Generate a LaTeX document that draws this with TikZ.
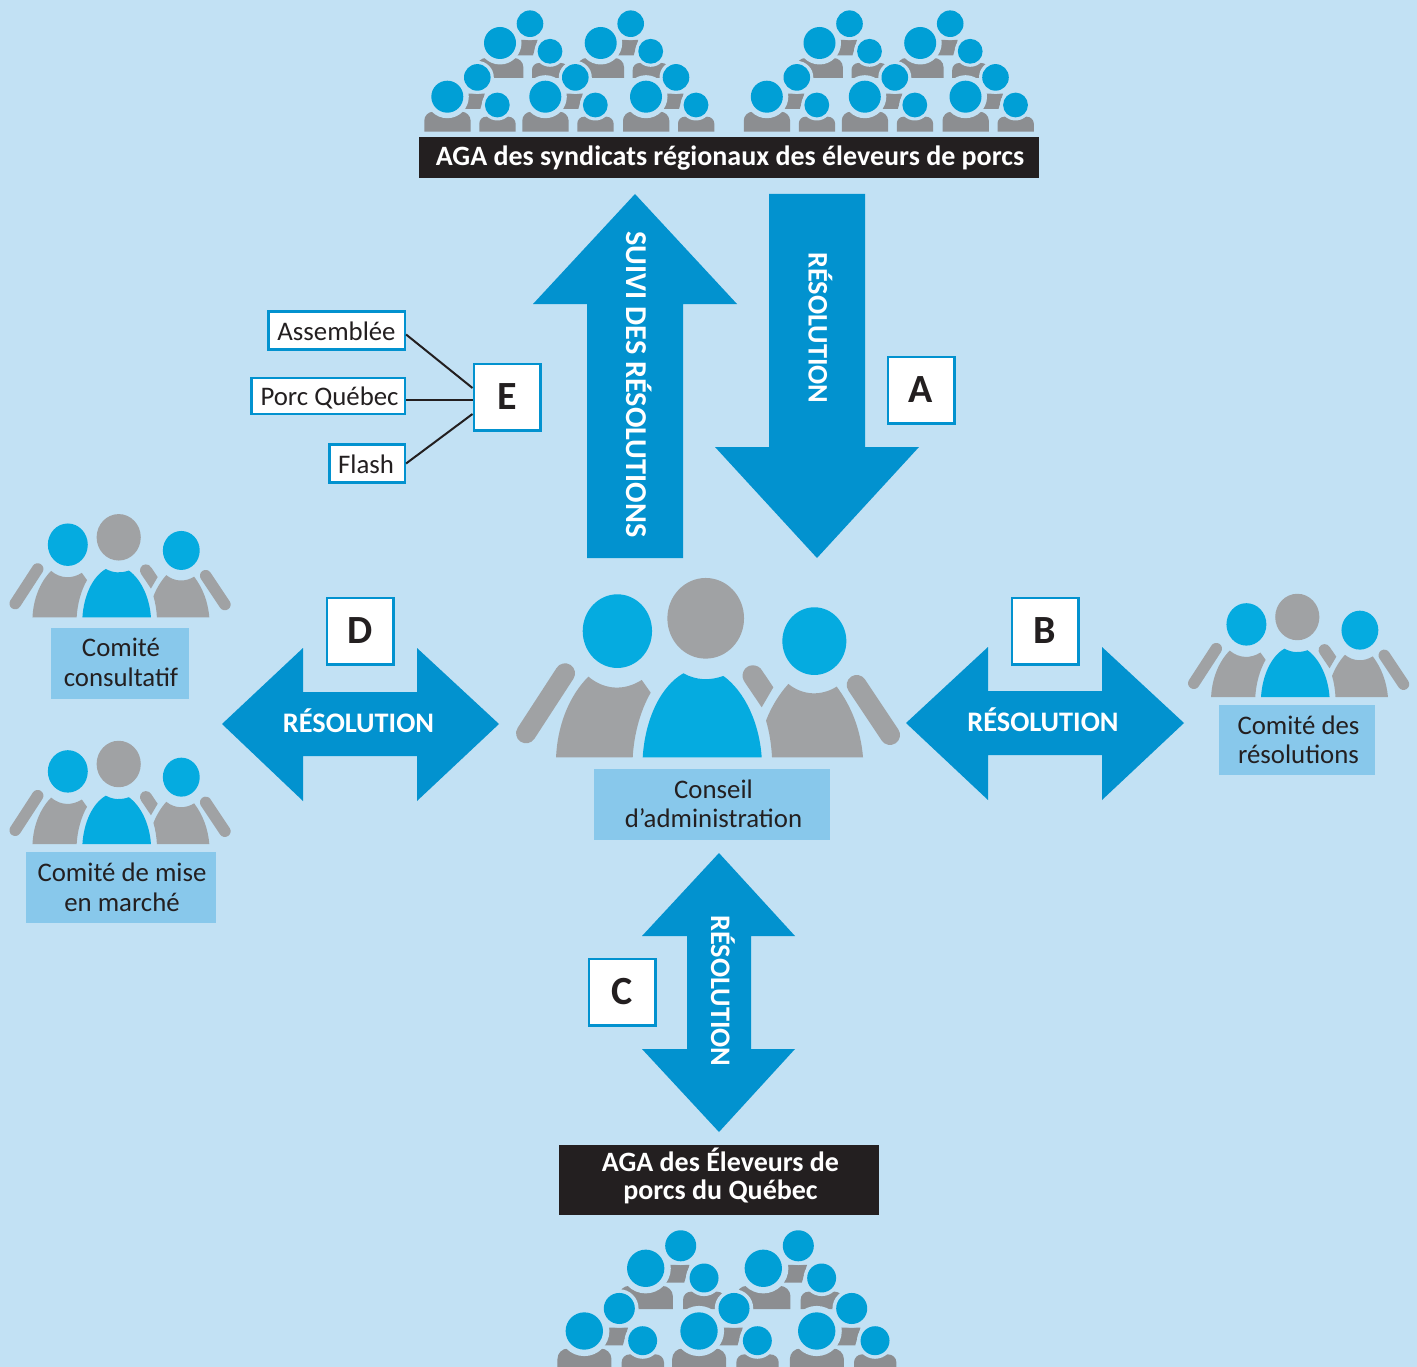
\documentclass[tikz,border=0pt]{standalone}
\usepackage{fontspec}
\setmainfont{Carlito}
\definecolor{bgc}{HTML}{C2E1F4}
\definecolor{arrowc}{HTML}{0292CF}
\definecolor{crowdhead}{HTML}{009FD6}
\definecolor{crowdbody}{HTML}{8C8E91}
\definecolor{triohead}{HTML}{05ABE0}
\definecolor{triogray}{HTML}{A0A2A4}
\definecolor{labelc}{HTML}{88C8EB}
\definecolor{inkc}{HTML}{231F20}
\tikzset{
  bigarrow/.style={fill=arrowc,draw=none},
  arrowlabel/.style={text=white,font=\fontsize{28.3}{30}\bfseries\selectfont,inner sep=0pt},
  letterbox/.style={draw=arrowc,line width=2.6pt,fill=white,text=inkc,minimum width=66.4pt,minimum height=66.4pt,inner sep=0pt,font=\fontsize{40}{44}\bfseries\selectfont},
  mediabox/.style={draw=arrowc,line width=2.6pt,fill=white,minimum height=38.5pt,inner sep=0pt},
  medialabel/.style={text=inkc,inner sep=0pt,font=\fontsize{26.8}{29}\selectfont},
  commbox/.style={fill=labelc,inner sep=0pt},
  commlabel/.style={text=inkc,inner sep=0pt,align=center,font=\fontsize{26.8}{29.5}\selectfont},
  blackbox/.style={fill=inkc,inner sep=0pt},
  blacklabel/.style={text=white,inner sep=0pt,align=center,font=\fontsize{28}{28}\bfseries\selectfont},
  link/.style={draw=inkc,line width=2pt}
}
\newcommand{\trio}[3]{%
 \begin{scope}[shift={(#1,#2)},scale=#3,shift={(-587,-145)}]
  \pgfmathsetmacro{\armw}{60*#3}
  \draw[triogray,line width=\armw pt,line cap=round] (165,310) -- (48,490);
  \draw[triogray,line width=\armw pt,line cap=round] (1040,345) -- (1140,495);
  \fill[triogray] (755,412) -- (790,352) -- (757,303) .. controls (745,280) and (710,280) .. (700,305) .. controls (695,318) and (698,328) .. (705,338) -- cycle;
  \fill[triogray] (138,562) -- (368,562) .. controls (372,490) and (392,420) .. (422,368) -- (395,330) .. controls (345,362) and (285,362) .. (235,320) .. controls (175,380) and (142,470) .. (138,562) -- cycle;
  \fill[triohead] (398,562) -- (755,562) .. controls (748,460) and (705,365) .. (640,318) .. controls (600,332) and (560,332) .. (520,310) .. controls (450,350) and (405,450) .. (398,562) -- cycle;
  \fill[triogray] (786,562) -- (1059,562) .. controls (1052,480) and (1025,410) .. (980,350) .. controls (935,378) and (880,378) .. (835,342) .. controls (805,375) and (782,415) .. (768,452) .. controls (778,485) and (784,525) .. (786,562) -- cycle;
  \fill[triohead] (322,183.5) ellipse [x radius=104,y radius=110.5];
  \fill[triogray] (587,145) ellipse [x radius=115,y radius=121];
  \fill[triohead] (913,213.5) ellipse [x radius=96,y radius=101.5];
 \end{scope}}
\newcommand{\crowdunit}[3]{%
 \begin{scope}[shift={(#1,#2)},scale=#3]
  \fill[crowdbody] (17,12.3) -- (33,12.3) -- (37.5,-3) -- (18,-3) -- cycle;
  \fill[crowdbody] (-23,35) -- (-23,24) .. controls (-23,19) and (-19,15) .. (-14,15) -- (14,15) .. controls (19,15) and (23.3,19) .. (23.3,24) -- (23.3,35) -- cycle;
  \fill[crowdbody] (32,35) -- (32,27) .. controls (32,23) and (35,20) .. (39,20) -- (61,20) .. controls (65,20) and (68.3,23) .. (68.3,27) -- (68.3,35) -- cycle;
  \fill[bgc] (0,0) circle [radius=21.5];
  \fill[bgc] (30,-19.3) circle [radius=16.5];
  \fill[bgc] (50,8.3) circle [radius=15.5];
  \fill[crowdhead] (0,0) circle [radius=16];
  \fill[crowdhead] (30,-19.3) circle [radius=13.3];
  \fill[crowdhead] (50,8.3) circle [radius=12.4];
 \end{scope}}
\newcommand{\topcrowd}[1]{%
 \crowdunit{#1+500}{43}{1}
 \crowdunit{#1+600.7}{43}{1}
 \crowdunit{#1+447.3}{96.7}{1}
 \crowdunit{#1+545.3}{96.7}{1}
 \crowdunit{#1+646}{96.7}{1}}
\begin{document}
\begin{tikzpicture}[x=1pt,y=-1pt]
\useasboundingbox (0,0) rectangle (1417,1367);
\fill[bgc] (0,0) rectangle (1417,1367);
\begin{scope}
\clip (0,0) rectangle (1417,1367);
\topcrowd{0}
\topcrowd{319.5}
\crowdunit{645.7}{1268.3}{1.167}
\crowdunit{763.3}{1268.3}{1.167}
\crowdunit{584.3}{1331}{1.167}
\crowdunit{699}{1331}{1.167}
\crowdunit{816.7}{1331}{1.167}
\end{scope}
\trio{705.7}{618.3}{0.3333}
\trio{118.7}{537.3}{0.192}
\trio{118.7}{764}{0.192}
\trio{1297.3}{617}{0.192}
% arrows
\fill[bigarrow] (635,194) -- (737,304) -- (683,304) -- (683,558) -- (587,558) -- (587,304) -- (533,304) -- cycle;
\fill[bigarrow] (817,558) -- (715,447) -- (769,447) -- (769,194) -- (865,194) -- (865,447) -- (919,447) -- cycle;
\fill[bigarrow] (222,724) -- (303,648) -- (303,692) -- (417,692) -- (417,648) -- (499,724) -- (417,801) -- (417,756) -- (303,756) -- (303,801) -- cycle;
\fill[bigarrow] (906,723) -- (988,647) -- (988,691) -- (1102,691) -- (1102,647) -- (1184,723) -- (1102,800) -- (1102,755) -- (988,755) -- (988,800) -- cycle;
\fill[bigarrow] (719,853) -- (795,936) -- (751,936) -- (751,1049) -- (795,1049) -- (719,1132) -- (642,1049) -- (687,1049) -- (687,936) -- (642,936) -- cycle;
\node[arrowlabel,rotate=-90,font=\fontsize{30.3}{32}\bfseries\selectfont] (suivi) at (639.5,384.5) {SUIVI DES RÉSOLUTIONS};
\node[arrowlabel,rotate=-90] (resa) at (820.5,328) {RÉSOLUTION};
\node[arrowlabel] (resd) at (358.5,720.5) {RÉSOLUTION};
\node[arrowlabel] (resb) at (1043,719.5) {RÉSOLUTION};
\node[arrowlabel,rotate=-90] (resc) at (723,991) {RÉSOLUTION};
% letter boxes
\node[letterbox] (A) at (921,390) {A};
\node[letterbox] (B) at (1045,631) {B};
\node[letterbox] (C) at (622,992) {C};
\node[letterbox] (D) at (360,631) {D};
\node[letterbox] (E) at (507,397) {E};
% media boxes
\node[mediabox,minimum width=136.6pt] (assemblee) at (336.5,330.5) {};
\node[medialabel] (assembleetext) at (336.5,331.5) {Assemblée};
\node[mediabox,minimum width=153.6pt,minimum height=36pt] (porc) at (328,396) {};
\node[medialabel] (porctext) at (329.5,398) {Porc Québec};
\node[mediabox,minimum width=75.6pt] (flash) at (367,463.5) {};
\node[medialabel] (flashtext) at (366,464.5) {Flash};
\draw[link] ([yshift=-4pt]assemblee.east) -- ([yshift=9pt]E.west);
\draw[link] ([yshift=-4pt]porc.east) -- ([yshift=-3pt]E.west);
\draw[link] (flash.east) -- ([yshift=-17pt]E.west);
% labels
\node[commbox,minimum width=236pt,minimum height=71pt] (conseil) at (712,804.5) {};
\node[commlabel] (conseiltext) at (713.5,804) {Conseil\\d’administration};
\node[commbox,minimum width=138pt,minimum height=71pt] (consult) at (120,663.5) {};
\node[commlabel] (consulttext) at (121,662.5) {Comité\\consultatif};
\node[commbox,minimum width=190pt,minimum height=71pt] (mise) at (121,887.5) {};
\node[commlabel] (misetext) at (122,887.5) {Comité de mise\\en marché};
\node[commbox,minimum width=156pt,minimum height=70pt] (resol) at (1297,740) {};
\node[commlabel] (resoltext) at (1298.5,740) {Comité des\\résolutions};
\node[blackbox,minimum width=620pt,minimum height=41pt] (agatop) at (729,157.5) {};
\node[blacklabel] (agatoptext) at (730,158.5) {AGA des syndicats régionaux des éleveurs de porcs};
\node[blackbox,minimum width=320pt,minimum height=70pt] (agabot) at (719,1180) {};
\node[blacklabel] (agabottext) at (720.5,1175.5) {AGA des Éleveurs de\\porcs du Québec};
\end{tikzpicture}
\end{document}
